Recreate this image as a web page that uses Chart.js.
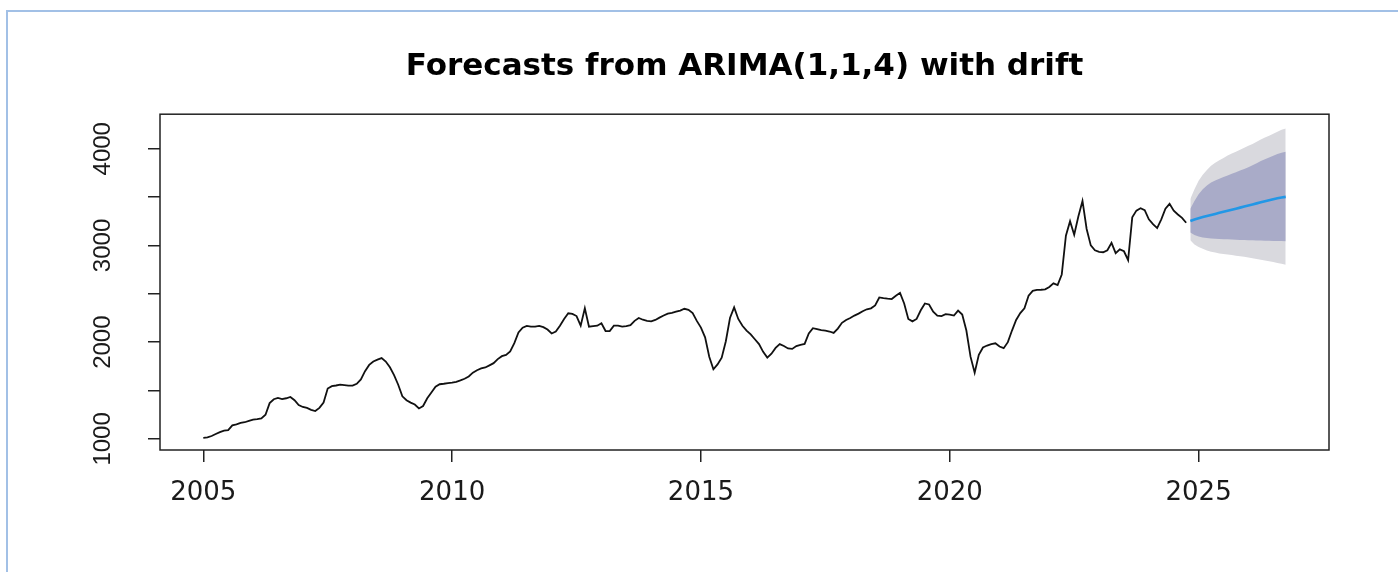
<!DOCTYPE html>
<html>
<head>
<meta charset="utf-8">
<script src="https://cdn.jsdelivr.net/npm/chart.js@4.4.1/dist/chart.umd.min.js"></script>
<style>
  html, body { margin: 0; padding: 0; background: #fff; }
  #wrap { position: relative; width: 1398px; height: 572px; overflow: hidden; }
  #frame { position: absolute; left: 6px; top: 10px; right: 0; bottom: 0;
           border-left: 2px solid #a2c0e6; border-top: 2px solid #a2c0e6; }
  #chart { position: absolute; left: 0; top: 0; }
</style>
</head>
<body>
<div id="wrap">
  <div id="frame"></div>
  <canvas id="chart" width="1398" height="572"></canvas>
</div>
<script>
// monthly series, Jan 2005 - Oct 2024
const startYear = 2005;
const history = [
  1010, 1015, 1030, 1050, 1070, 1085, 1090, 1140, 1150, 1165, 1172, 1185, // 2005
  1199, 1205, 1212, 1250, 1370, 1410, 1423, 1412, 1420, 1433, 1400, 1350, // 2006
  1330, 1320, 1300, 1288, 1320, 1375, 1520, 1545, 1552, 1560, 1555, 1550, // 2007
  1550, 1570, 1615, 1700, 1765, 1800, 1820, 1835, 1800, 1740, 1660, 1560, // 2008
  1440, 1400, 1375, 1355, 1315, 1340, 1420, 1480, 1540, 1565, 1570, 1577, // 2009
  1582, 1590, 1605, 1622, 1645, 1685, 1710, 1728, 1738, 1760, 1783, 1825, // 2010
  1855, 1869, 1905, 1990, 2100, 2150, 2168, 2160, 2160, 2168, 2155, 2130, // 2011
  2090, 2110, 2170, 2240, 2299, 2292, 2270, 2170, 2350, 2160, 2165, 2170, // 2012
  2196, 2115, 2115, 2170, 2170, 2160, 2165, 2175, 2220, 2250, 2232, 2220, // 2013
  2215, 2230, 2254, 2275, 2295, 2302, 2315, 2326, 2345, 2335, 2300, 2220, // 2014
  2150, 2050, 1850, 1720, 1770, 1840, 2010, 2250, 2360, 2240, 2170, 2120, // 2015
  2080, 2030, 1980, 1900, 1840, 1880, 1940, 1980, 1960, 1935, 1930, 1960, // 2016
  1972, 1982, 2090, 2144, 2135, 2125, 2120, 2110, 2095, 2140, 2200, 2230, // 2017
  2250, 2275, 2295, 2320, 2340, 2350, 2380, 2462, 2455, 2450, 2446, 2480, // 2018
  2510, 2400, 2240, 2215, 2240, 2330, 2400, 2390, 2315, 2275, 2270, 2289, // 2019
  2285, 2275, 2326, 2285, 2120, 1850, 1685, 1870, 1945, 1965, 1980, 1988, // 2020
  1955, 1938, 2000, 2120, 2230, 2300, 2350, 2480, 2530, 2540, 2542, 2546, // 2021
  2570, 2608, 2590, 2700, 3100, 3250, 3110, 3300, 3460, 3170, 3000, 2950, // 2022
  2934, 2930, 2950, 3027, 2920, 2960, 2940, 2849, 3290, 3360, 3385, 3364, // 2023
  3270, 3220, 3180, 3270, 3380, 3430, 3360, 3320, 3285, 3235              // 2024
];

// 24-month forecast, Nov 2024 - Oct 2026
const fcMean = [3252, 3268, 3281, 3293, 3304, 3315, 3326, 3337, 3348, 3358, 3369, 3380,
                3391, 3402, 3413, 3424, 3435, 3446, 3457, 3467, 3478, 3488, 3496, 3502];
const hi80 = [3380, 3460, 3530, 3580, 3620, 3650, 3672, 3690, 3708, 3722, 3740, 3757,
              3774, 3790, 3808, 3828, 3850, 3872, 3892, 3910, 3928, 3945, 3958, 3968];
const lo80 = [3134, 3108, 3092, 3083, 3077, 3073, 3070, 3067, 3065, 3063, 3061, 3059,
              3057, 3056, 3055, 3053, 3052, 3050, 3049, 3048, 3047, 3046, 3045, 3044];
const hi95 = [3480, 3580, 3670, 3730, 3780, 3825, 3855, 3880, 3905, 3930, 3950, 3970,
              3990, 4010, 4030, 4050, 4072, 4095, 4115, 4135, 4155, 4175, 4195, 4210];
const lo95 = [3055, 3010, 2985, 2965, 2948, 2935, 2926, 2918, 2912, 2906, 2900, 2894,
              2888, 2883, 2876, 2868, 2860, 2852, 2845, 2837, 2828, 2819, 2810, 2800];

const xTicks = [2005, 2010, 2015, 2020, 2025];
const yTicks = [1000, 1500, 2000, 2500, 3000, 3500, 4000];
const yLabels = [1000, 2000, 3000, 4000];

const histPoints = history.map((v, i) => ({x: startYear + i / 12, y: v}));
const fcX = i => startYear + (history.length + i) / 12;
const toPts = arr => arr.map((v, i) => ({x: fcX(i), y: v}));

// R style box round the plot region
const plotBox = {
  id: 'plotBox',
  afterDraw(chart) {
    const {ctx, chartArea: a} = chart;
    ctx.save();
    ctx.strokeStyle = '#222';
    ctx.lineWidth = 1.5;
    ctx.strokeRect(a.left, a.top, a.right - a.left, a.bottom - a.top);
    ctx.restore();
  }
};

const tickGrid = {
  display: true,
  drawOnChartArea: false,
  drawTicks: true,
  tickLength: 12,
  color: '#222',
  lineWidth: 1.5
};

new Chart(document.getElementById('chart'), {
  type: 'line',
  data: {
    datasets: [
      {label: 'history', data: histPoints, borderColor: '#111', borderWidth: 1.8,
       pointRadius: 0, tension: 0, fill: false},
      {label: 'forecast', data: toPts(fcMean), borderColor: '#2297E6', borderWidth: 2.6,
       pointRadius: 0, fill: false},
      {label: 'hi80', data: toPts(hi80), borderColor: 'transparent', borderWidth: 0,
       pointRadius: 0, backgroundColor: '#a9abc8', fill: 3},
      {label: 'lo80', data: toPts(lo80), borderColor: 'transparent', borderWidth: 0,
       pointRadius: 0, fill: false},
      {label: 'hi95', data: toPts(hi95), borderColor: 'transparent', borderWidth: 0,
       pointRadius: 0, backgroundColor: '#d9d9de', fill: 5},
      {label: 'lo95', data: toPts(lo95), borderColor: 'transparent', borderWidth: 0,
       pointRadius: 0, fill: false}
    ]
  },
  options: {
    responsive: false,
    animation: false,
    devicePixelRatio: 1,
    layout: {padding: {left: 0, right: 69, top: 0, bottom: 0}},
    plugins: {
      legend: {display: false},
      tooltip: {enabled: false},
      title: {
        display: true,
        fullSize: false,
        text: 'Forecasts from ARIMA(1,1,4) with drift',
        color: '#000',
        font: {family: 'DejaVu Sans', size: 31, weight: 'bold'},
        padding: {top: 48, bottom: 29}
      }
    },
    scales: {
      x: {
        type: 'linear',
        min: 2004.13,
        max: 2027.62,
        afterFit: s => { s.height = 122; },
        afterBuildTicks: s => { s.ticks = xTicks.map(v => ({value: v})); },
        grid: tickGrid,
        border: {display: false},
        ticks: {
          autoSkip: false, maxRotation: 0, padding: 16, color: '#1a1a1a',
          font: {family: 'DejaVu Sans', size: 26},
          callback: v => String(v)
        }
      },
      y: {
        type: 'linear',
        min: 885,
        max: 4357,
        afterFit: s => { s.width = 160; },
        afterBuildTicks: s => { s.ticks = yTicks.map(v => ({value: v})); },
        grid: tickGrid,
        border: {display: false},
        ticks: {
          autoSkip: false, minRotation: 90, maxRotation: 90, crossAlign: 'center',
          padding: 18, color: '#1a1a1a',
          font: {family: 'Liberation Sans', size: 24},
          callback: v => yLabels.includes(v) ? String(v) : ''
        }
      }
    }
  },
  plugins: [plotBox]
});
</script>
</body>
</html>
